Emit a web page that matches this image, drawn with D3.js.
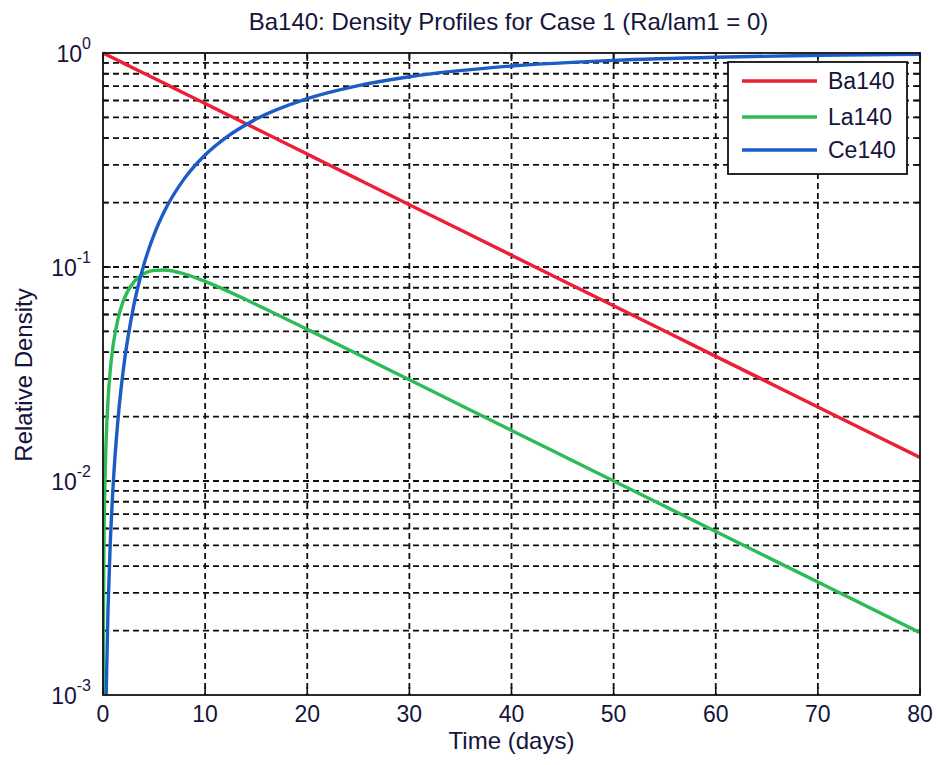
<!DOCTYPE html>
<html>
<head>
<meta charset="utf-8">
<script src="https://cdn.jsdelivr.net/npm/d3@7"></script>
<style>
body { margin: 0; background: #fff; }
text { font-family: "Liberation Sans", Arial, sans-serif; fill: #14143c; }
</style>
</head>
<body>
<div id="chart"></div>
<script>
// time samples (days) and densities
var times = [0.01, 0.02, 0.05, 0.1, 0.2, 0.3, 0.5, 0.7, 1, 1.5, 2, 3, 4, 5, 6, 8, 10, 12, 15, 20, 25, 30, 40, 50, 60, 70, 80];
var ba140 = [0.99946, 0.99891, 0.99728, 0.99457, 0.98918, 0.98381, 0.97317, 0.96264, 0.94705, 0.92164, 0.89691, 0.84942, 0.80445, 0.76185, 0.72152, 0.64712, 0.58042, 0.52059, 0.44220, 0.33689, 0.25666, 0.19554, 0.11349, 0.06588, 0.03823, 0.02219, 0.01288];
var la140 = [0.000543, 0.001083, 0.002689, 0.005314, 0.010386, 0.015223, 0.024234, 0.032422, 0.043297, 0.05818, 0.06967, 0.084954, 0.093018, 0.096404, 0.096801, 0.092681, 0.085696, 0.077988, 0.066845, 0.051124, 0.038974, 0.029696, 0.017236, 0.010005, 0.005805, 0.00337, 0.001956];
var ce140 = [0.000001, 0.000004, 0.000027, 0.000116, 0.000435, 0.000965, 0.002599, 0.004942, 0.00965, 0.020181, 0.033423, 0.065627, 0.102535, 0.141742, 0.181683, 0.260198, 0.333882, 0.401424, 0.490958, 0.611987, 0.704365, 0.774766, 0.869273, 0.924117, 0.955969, 0.974443, 0.985166];
var seriesNames = ["Ba140", "La140", "Ce140"];
var xTicks = [0, 10, 20, 30, 40, 50, 60, 70, 80];
var yExponents = [-3, -2, -1, 0];

var width = 937, height = 765;
var margin = {top: 53, right: 17, bottom: 70, left: 103};
var plotW = width - margin.left - margin.right,
	plotH = height - margin.top - margin.bottom;

var colors = ["#ee1f35", "#2dbb55", "#1c5cc6"];

var x = d3.scaleLinear().domain([0, 80]).range([0, plotW]);
var y = d3.scaleLog().domain([1e-3, 1]).range([plotH, 0]);

var svg = d3.select("#chart").append("svg")
	.attr("width", width)
	.attr("height", height);

svg.append("defs").append("clipPath").attr("id", "clip")
	.append("rect").attr("x", 0).attr("y", -3).attr("width", plotW).attr("height", plotH + 3);

var g = svg.append("g").attr("transform", "translate(" + margin.left + "," + margin.top + ")");

// minor + major log positions
var yGrid = [];
yExponents.forEach(function(e) {
	if (e == 0) return;
	for (var m = 1; m <= 9; m++) yGrid.push({v: m * Math.pow(10, e), major: m == 1});
});
yGrid = yGrid.filter(function(d) { return d.v > 1e-3 && d.v < 1; });

// grid
g.selectAll(".hgrid").data(yGrid).enter().append("line")
	.attr("x1", 0).attr("x2", plotW)
	.attr("y1", function(d) { return y(d.v); })
	.attr("y2", function(d) { return y(d.v); })
	.attr("stroke", "#111").attr("stroke-width", 1.8)
	.attr("stroke-dasharray", "6,4");

g.selectAll(".vgrid").data(xTicks.slice(1, -1)).enter().append("line")
	.attr("x1", function(d) { return x(d); }).attr("x2", function(d) { return x(d); })
	.attr("y1", 0).attr("y2", plotH)
	.attr("stroke", "#111").attr("stroke-width", 1.8)
	.attr("stroke-dasharray", "6,4");

// ticks (inward, all four sides)
var tickG = g.append("g").attr("stroke", "#111").attr("stroke-width", 1.6);
xTicks.forEach(function(t) {
	tickG.append("line").attr("x1", x(t)).attr("x2", x(t)).attr("y1", plotH).attr("y2", plotH - 8);
	tickG.append("line").attr("x1", x(t)).attr("x2", x(t)).attr("y1", 0).attr("y2", 8);
});
yGrid.forEach(function(d) {
	var len = d.major ? 8 : 5;
	tickG.append("line").attr("x1", 0).attr("x2", len).attr("y1", y(d.v)).attr("y2", y(d.v));
	tickG.append("line").attr("x1", plotW).attr("x2", plotW - len).attr("y1", y(d.v)).attr("y2", y(d.v));
});

// lines
var line = d3.line()
	.x(function(d) { return x(d[0]); })
	.y(function(d) { return y(d[1]); })
	.curve(d3.curveMonotoneX);

[ba140, la140, ce140].forEach(function(vals, i) {
	var pts = times.map(function(t, j) { return [t, vals[j]]; });
	if (i == 0) pts.unshift([0, 1]);
	g.append("path")
		.datum(pts)
		.attr("clip-path", "url(#clip)")
		.attr("fill", "none")
		.attr("stroke", colors[i])
		.attr("stroke-width", 3.4)
		.attr("d", line);
});

// frame
g.append("rect").attr("width", plotW).attr("height", plotH)
	.attr("fill", "none").attr("stroke", "#111").attr("stroke-width", 1.8);

// x tick labels
g.selectAll(".xlab").data(xTicks).enter().append("text")
	.attr("x", function(d) { return x(d); })
	.attr("y", plotH + 27)
	.attr("text-anchor", "middle")
	.style("font-size", "23px")
	.text(function(d) { return d; });

// y tick labels 10^e
yExponents.forEach(function(e) {
	var t = g.append("text")
		.attr("x", -12)
		.attr("y", y(Math.pow(10, e)) + 9)
		.attr("text-anchor", "end")
		.style("font-size", "23px");
	t.append("tspan").text("10");
	t.append("tspan").attr("dy", -13).style("font-size", "16px").text(e);
});

// titles
svg.append("text")
	.attr("x", margin.left + plotW / 2 - 3)
	.attr("y", 30)
	.attr("text-anchor", "middle")
	.style("font-size", "24px")
	.text("Ba140: Density Profiles for Case 1 (Ra/lam1 = 0)");

svg.append("text")
	.attr("x", margin.left + plotW / 2)
	.attr("y", 749)
	.attr("text-anchor", "middle")
	.style("font-size", "24px")
	.text("Time (days)");

svg.append("text")
	.attr("transform", "translate(32," + (margin.top + plotH / 2 + 1) + ") rotate(-90)")
	.attr("text-anchor", "middle")
	.style("font-size", "24px")
	.text("Relative Density");

// legend
var legend = svg.append("g").attr("transform", "translate(728,62)");
legend.append("rect").attr("width", 179).attr("height", 112)
	.attr("fill", "#fff").attr("stroke", "#111").attr("stroke-width", 1.8);
var legY = [19, 55, 88];
seriesNames.forEach(function(name, i) {
	legend.append("line")
		.attr("x1", 14).attr("x2", 89)
		.attr("y1", legY[i]).attr("y2", legY[i])
		.attr("stroke", colors[i]).attr("stroke-width", 3.4);
	legend.append("text")
		.attr("x", 100).attr("y", legY[i] + 8)
		.style("font-size", "23px")
		.text(name);
});
</script>
</body>
</html>
